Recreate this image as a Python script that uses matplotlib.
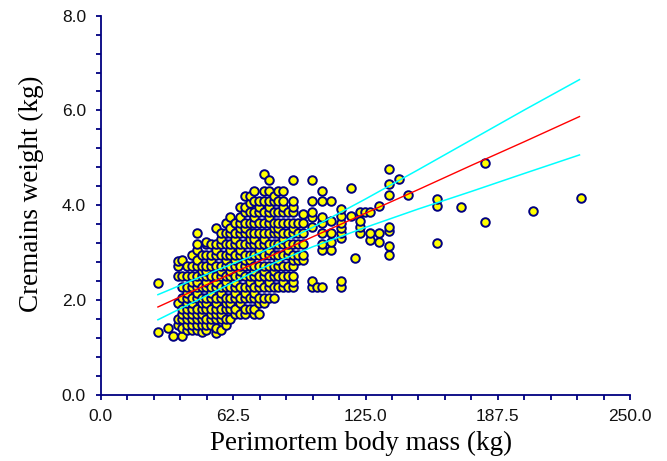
import matplotlib
matplotlib.use("Agg")
import matplotlib.pyplot as plt
from matplotlib.ticker import MultipleLocator, FormatStrFormatter

LB = 0.45359237  # kg per lb

# body mass columns (lb) and the cremains weights (lb) seen in each column
mass_lb = [60, 70, 75, 80, 85, 90, 95, 100, 105, 110, 115, 120, 125, 130,
           135, 140, 145, 150, 155, 160, 165, 170, 175, 180, 185, 190, 195,
           200, 205, 210, 220, 225, 230, 240, 250, 260, 265, 270, 275, 280,
           290, 300, 310, 320, 350, 375, 400, 450, 500]
cremains_lb = [
    [2.9, 5.2],
    [3.1],
    [2.75],
    [3.25, 3.5, 4.25, 5.5, 6.0, 6.2],
    [2.75, 3.1, 3.5, 3.75, 4.0, 4.5, 5.0, 5.5, 6.25],
    [3.0, 3.25, 3.5, 3.75, 4.0, 4.25, 4.5, 4.75, 5.0, 5.5, 6.0],
    [3.0, 3.25, 3.5, 3.75, 4.0, 4.25, 4.5, 5.0, 5.25, 5.5, 6.0, 6.5],
    [3.0, 3.25, 3.5, 3.75, 4.0, 4.5, 4.75, 5.0, 5.25, 5.5, 6.0, 6.25, 6.75,
     7.0, 7.5],
    [2.9, 3.25, 3.5, 3.75, 4.0, 4.25, 4.5, 5.0, 5.5, 5.75, 6.0, 6.5],
    [3.0, 3.25, 3.5, 4.0, 4.25, 4.5, 5.0, 5.25, 5.5, 5.75, 6.0, 6.5, 7.0, 7.1],
    [3.25, 3.5, 3.75, 4.0, 4.5, 4.75, 5.0, 5.5, 6.0, 6.25, 6.5, 7.0],
    [2.85, 3.1, 3.5, 3.75, 4.0, 4.25, 4.5, 5.0, 5.25, 5.5, 6.0, 6.5, 6.75,
     7.0, 7.75],
    [3.0, 3.5, 3.75, 4.0, 4.5, 4.75, 5.0, 5.5, 5.75, 6.0, 6.5, 7.0, 7.25, 7.5],
    [3.25, 3.5, 4.0, 4.25, 4.5, 5.0, 5.25, 5.5, 6.0, 6.25, 6.5, 7.0, 7.5, 8.0],
    [3.5, 4.0, 4.25, 4.5, 5.0, 5.5, 5.75, 6.0, 6.5, 6.75, 7.0, 7.5, 7.75,
     8.25],
    [3.75, 4.0, 4.5, 4.75, 5.0, 5.25, 5.5, 6.0, 6.25, 6.5, 7.0, 7.25, 7.5,
     8.0],
    [3.75, 4.25, 4.5, 5.0, 5.5, 5.75, 6.0, 6.5, 6.75, 7.0, 7.5, 7.75, 8.0,
     8.25, 8.75],
    [3.75, 4.0, 4.5, 4.75, 5.0, 5.5, 6.0, 6.25, 6.5, 7.0, 7.5, 7.75, 8.0, 8.5,
     8.75, 9.25],
    [4.0, 4.5, 5.0, 5.25, 5.5, 6.0, 6.25, 6.5, 7.0, 7.25, 7.5, 8.0, 8.5, 8.9,
     9.25],
    [3.75, 4.0, 4.5, 4.75, 5.0, 5.5, 5.75, 6.0, 6.5, 7.0, 7.25, 7.5, 8.0, 8.25,
     8.5, 9.0, 9.5],
    [3.75, 4.25, 4.5, 5.0, 5.25, 5.5, 6.0, 6.5, 6.75, 7.0, 7.5, 8.0, 8.5,
     8.75, 9.0],
    [4.25, 4.5, 5.0, 5.5, 5.75, 6.0, 6.5, 7.0, 7.25, 7.5, 8.0, 8.5, 9.0, 9.5,
     10.25],
    [4.5, 5.0, 5.25, 5.5, 6.0, 6.5, 6.75, 7.0, 7.5, 8.0, 8.25, 8.5, 8.75, 9.0,
     9.5, 10.0],
    [4.5, 5.0, 5.5, 5.75, 6.0, 6.5, 7.0, 7.5, 7.75, 8.0, 8.5, 9.0, 9.25],
    [5.0, 5.5, 6.0, 6.25, 6.5, 7.0, 7.5, 7.75, 8.0, 8.5, 9.0, 9.5],
    [5.0, 5.25, 5.5, 6.0, 6.5, 7.0, 7.25, 7.5, 8.0, 8.5, 8.75, 9.0, 9.5],
    [5.0, 5.5, 6.0, 6.5, 6.75, 7.0, 7.5, 8.0, 8.5],
    [5.0, 5.25, 5.5, 6.0, 6.25, 6.5, 7.0, 7.5, 7.75, 8.0, 8.5, 8.75, 9.0,
     10.0],
    [6.25, 6.5, 7.0, 7.5, 8.0],
    [6.25, 6.5, 7.0, 7.5, 8.0, 8.4],
    [5.0, 5.3, 7.8, 8.25, 8.5, 9.0, 10.0],
    [5.0],
    [5.0, 6.75, 7.0, 7.5, 8.0, 8.25, 9.0, 9.5],
    [6.75, 7.1, 7.5, 8.1, 9.0],
    [5.0, 5.3, 7.3, 7.5, 7.75, 8.0, 8.3, 8.65],
    [8.3, 9.6],
    [6.35],
    [7.5, 7.8, 8.1, 8.5],
    [8.5],
    [7.2, 7.5, 8.5],
    [7.1, 7.5, 8.8],
    [6.5, 6.9, 7.6, 7.8, 9.3, 9.8, 10.5],
    [10.05],
    [9.3],
    [7.05, 8.8, 9.1],
    [8.75],
    [8.05, 10.8],
    [8.55],
    [9.17],
]

# regression line and its confidence band (kg), read at these masses
fit_mass = [27, 50, 75, 100, 125, 150, 175, 200, 226]
fit_mean = [1.85, 2.32, 2.82, 3.33, 3.83, 4.33, 4.84, 5.34, 5.87]
fit_upper = [2.11, 2.54, 2.99, 3.53, 4.13, 4.75, 5.38, 6.01, 6.65]
fit_lower = [1.58, 2.09, 2.65, 3.12, 3.53, 3.92, 4.29, 4.67, 5.06]

x = [m * LB for m, ys in zip(mass_lb, cremains_lb) for y in ys]
y = [y * LB for ys in cremains_lb for y in ys]

navy = "#000080"
fig = plt.figure(figsize=(6.67, 4.61), dpi=100)
ax = fig.add_axes([0.151, 0.144, 0.794, 0.822])

ax.scatter(x, y, s=38, c="#FFFF00", edgecolors=navy, linewidths=1.4, zorder=2)
ax.plot(fit_mass, fit_upper, color="#00FFFF", lw=1.1, zorder=3)
ax.plot(fit_mass, fit_lower, color="#00FFFF", lw=1.1, zorder=3)
ax.plot(fit_mass, fit_mean, color="#FF0000", lw=1.0, zorder=3)

ax.set_xlim(0, 250)
ax.set_ylim(0, 8)
ax.xaxis.set_major_locator(MultipleLocator(62.5))
ax.xaxis.set_minor_locator(MultipleLocator(12.5))
ax.yaxis.set_major_locator(MultipleLocator(2))
ax.yaxis.set_minor_locator(MultipleLocator(0.4))
ax.xaxis.set_major_formatter(FormatStrFormatter("%.1f"))
ax.yaxis.set_major_formatter(FormatStrFormatter("%.1f"))

for side in ("top", "right"):
    ax.spines[side].set_visible(False)
for side in ("left", "bottom"):
    ax.spines[side].set_color(navy)
    ax.spines[side].set_linewidth(1.3)

ax.tick_params(which="both", direction="out", length=3.6, width=1.3,
               color=navy, labelsize=12.5, labelcolor="#111111", pad=7)
for lab in ax.get_xticklabels() + ax.get_yticklabels():
    lab.set_family("Liberation Sans")

ax.set_xlabel("Perimortem body mass (kg)", family="Liberation Serif",
              fontsize=19.5, va="center")
ax.set_ylabel("Cremains weight (kg)", family="Liberation Serif",
              fontsize=19.5, va="center")
ax.xaxis.set_label_coords(0.491, -0.128)
ax.yaxis.set_label_coords(-0.1306, 0.529)

fig.savefig("out.png", dpi=100)
